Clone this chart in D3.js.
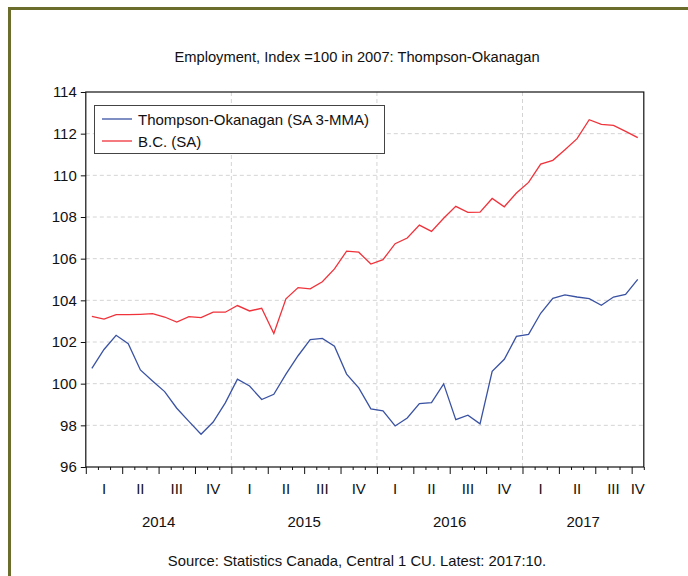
<!DOCTYPE html>
<html>
<head>
<meta charset="utf-8">
<script src="https://cdn.jsdelivr.net/npm/d3@7"></script>
<style>
  body { margin: 0; background: #fff; }
  text { font-family: "Liberation Sans", Arial, sans-serif; fill: #111; }
</style>
</head>
<body>
<div id="chart"></div>
<script>
// Monthly series, Jan 2014 .. Oct 2017 (46 months).
var thompsonOkanagan = [100.73, 101.64, 102.32, 101.92, 100.66, 100.13, 99.62, 98.82, 98.19, 97.57, 98.16, 99.08,
  100.22, 99.89, 99.24, 99.49, 100.46, 101.34, 102.11, 102.17, 101.80, 100.46, 99.80, 98.79,
  98.69, 97.97, 98.35, 99.04, 99.09, 99.99, 98.27, 98.49, 98.07, 100.59, 101.17, 102.27,
  102.37, 103.38, 104.10, 104.26, 104.16, 104.08, 103.76, 104.16, 104.29, 105.01];
var bc = [103.23, 103.10, 103.31, 103.31, 103.33, 103.36, 103.20, 102.96, 103.22, 103.17, 103.43, 103.43,
  103.75, 103.49, 103.62, 102.41, 104.07, 104.61, 104.55, 104.89, 105.51, 106.36, 106.31, 105.74,
  105.95, 106.72, 106.99, 107.61, 107.31, 107.94, 108.51, 108.22, 108.23, 108.89, 108.49, 109.15,
  109.66, 110.54, 110.72, 111.23, 111.76, 112.67, 112.45, 112.40, 112.11, 111.81];
var years = ["2014", "2015", "2016", "2017"];
var quarterNames = ["I", "II", "III", "IV"];
var yTicks = [96, 98, 100, 102, 104, 106, 108, 110, 112, 114];

var width = 688, height = 576;
var plotLeft = 85.8, plotRight = 643.8, plotTop = 92, plotBottom = 467;
var nMonths = thompsonOkanagan.length;

var svg = d3.select("#chart").append("svg")
    .attr("width", width)
    .attr("height", height);

// olive frame round the whole picture
svg.append("rect")
    .attr("x", 9.5).attr("y", 8.5)
    .attr("width", 700).attr("height", 600)
    .attr("fill", "none")
    .attr("stroke", "#6b6d2d")
    .attr("stroke-width", 3);

var x = d3.scaleLinear().domain([0, nMonths]).range([plotLeft, plotRight]);
var y = d3.scaleLinear().domain([96, 114]).range([plotBottom, plotTop]);

// title
svg.append("text")
    .attr("x", 357).attr("y", 62)
    .attr("text-anchor", "middle")
    .style("font-size", "14.7px")
    .text("Employment, Index =100 in 2007: Thompson-Okanagan");

// grid lines
svg.append("g").selectAll("line")
    .data(yTicks.slice(1, -1))
    .enter().append("line")
    .attr("x1", plotLeft).attr("x2", plotRight)
    .attr("y1", d => y(d)).attr("y2", d => y(d))
    .attr("stroke", "#d4d4d4")
    .attr("stroke-dasharray", "4,3");
svg.append("g").selectAll("line")
    .data([12, 24, 36])
    .enter().append("line")
    .attr("x1", d => x(d)).attr("x2", d => x(d))
    .attr("y1", plotTop).attr("y2", plotBottom)
    .attr("stroke", "#d4d4d4")
    .attr("stroke-dasharray", "4,3");

// y axis
var yAxis = d3.axisLeft(y).tickValues(yTicks).tickSize(5).tickPadding(4);
var yG = svg.append("g")
    .attr("transform", "translate(" + plotLeft + ",0)")
    .call(yAxis);
yG.select(".domain").remove();
yG.selectAll("text").style("font-size", "15px").attr("fill", "#111")
    .style("font-family", "'Liberation Sans', Arial, sans-serif");
yG.selectAll("line").attr("stroke", "#111");

// x axis: month ticks short, quarter ticks long
var months = d3.range(0, nMonths + 1);
var minorAxis = d3.axisBottom(x).tickValues(months.filter(m => m % 3 !== 0 || m === nMonths)).tickSize(3).tickFormat("");
var majorAxis = d3.axisBottom(x).tickValues(months.filter(m => m % 3 === 0 && m < nMonths)).tickSize(7).tickFormat("");
[minorAxis, majorAxis].forEach(function(ax) {
  var g = svg.append("g").attr("transform", "translate(0," + plotBottom + ")").call(ax);
  g.select(".domain").remove();
  g.selectAll("line").attr("stroke", "#111");
});

// quarter labels, centred on the visible part of each quarter
var quarters = d3.range(0, Math.ceil(nMonths / 3));
svg.append("g").selectAll("text")
    .data(quarters)
    .enter().append("text")
    .attr("x", q => x((3 * q + Math.min(3 * q + 3, nMonths)) / 2))
    .attr("y", 494)
    .attr("text-anchor", "middle")
    .style("font-size", "15px")
    .text(q => quarterNames[q % 4]);

// year labels
svg.append("g").selectAll("text")
    .data(years)
    .enter().append("text")
    .attr("x", (d, i) => x((12 * i + Math.min(12 * i + 12, nMonths)) / 2))
    .attr("y", 527)
    .attr("text-anchor", "middle")
    .style("font-size", "15px")
    .text(d => d);

// series lines
var line = d3.line()
    .x((d, i) => x(i + 0.5))
    .y(d => y(d));
svg.append("path").datum(bc)
    .attr("d", line)
    .attr("fill", "none")
    .attr("stroke", "#f0323a")
    .attr("stroke-width", 1.3);
svg.append("path").datum(thompsonOkanagan)
    .attr("d", line)
    .attr("fill", "none")
    .attr("stroke", "#3a52a3")
    .attr("stroke-width", 1.3);

// plot box
svg.append("rect")
    .attr("x", plotLeft).attr("y", plotTop)
    .attr("width", plotRight - plotLeft).attr("height", plotBottom - plotTop)
    .attr("fill", "none")
    .attr("stroke", "#111")
    .attr("stroke-width", 1.2);

// legend
var legend = svg.append("g").attr("id", "legend");
legend.append("rect")
    .attr("x", 94.5).attr("y", 105.5)
    .attr("width", 290).attr("height", 48)
    .attr("fill", "#fff")
    .attr("stroke", "#444");
var legendItems = [
  {name: "Thompson-Okanagan (SA 3-MMA)", color: "#3a52a3"},
  {name: "B.C. (SA)", color: "#f0323a"}
];
legendItems.forEach(function(item, i) {
  var ly = 119 + i * 22;
  legend.append("line")
      .attr("x1", 102).attr("x2", 132)
      .attr("y1", ly).attr("y2", ly)
      .attr("stroke", item.color)
      .attr("stroke-width", 1.3);
  legend.append("text")
      .attr("x", 138).attr("y", ly + 5.5)
      .style("font-size", "15px")
      .text(item.name);
});

// source note
svg.append("text")
    .attr("x", 357).attr("y", 566)
    .attr("text-anchor", "middle")
    .style("font-size", "14.8px")
    .text("Source: Statistics Canada, Central 1 CU. Latest: 2017:10.");
</script>
</body>
</html>
